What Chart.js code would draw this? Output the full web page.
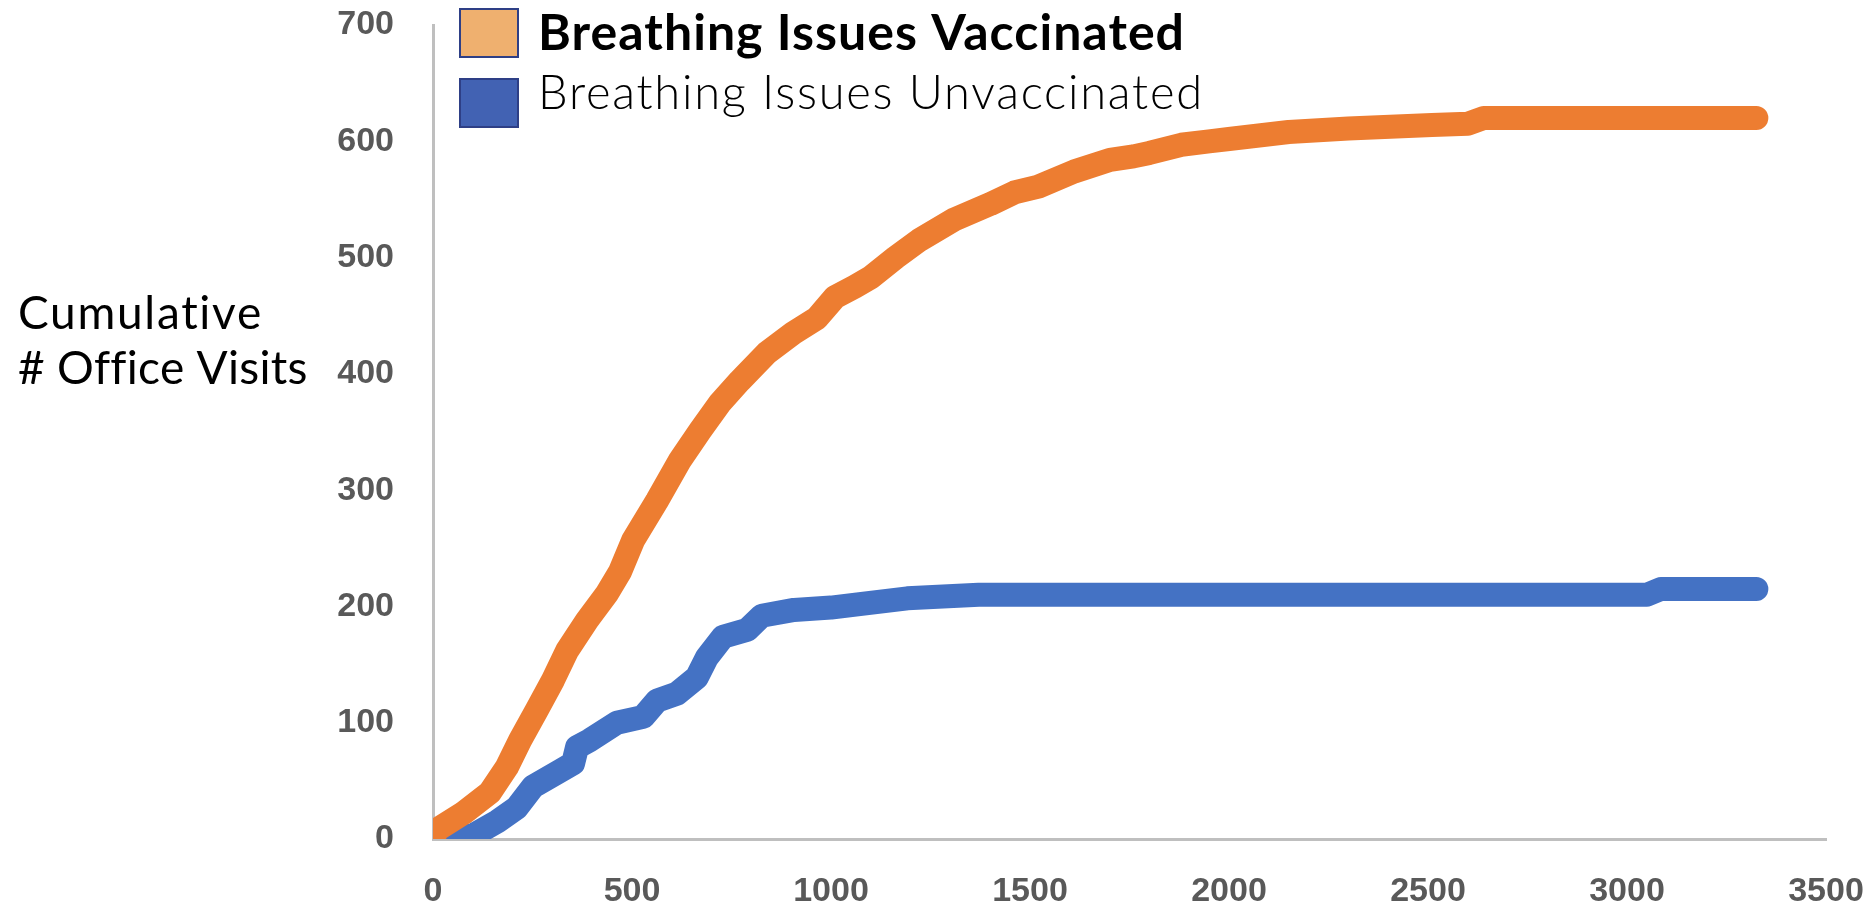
<!DOCTYPE html>
<html><head><meta charset="utf-8">
<script src="https://cdn.jsdelivr.net/npm/chart.js@4/dist/chart.umd.min.js"></script>
<style>html,body{margin:0;padding:0;background:#fff;overflow:hidden}#wrap{width:1875px;height:909px;position:relative}</style>
</head><body><div id="wrap"><canvas id="c" width="1875" height="909"></canvas></div>
<script>
const seriesNames = ['Breathing Issues Vaccinated', 'Breathing Issues Unvaccinated'];
const yAxisTitle = ['Cumulative', '# Office Visits'];
const xTicks = [0, 500, 1000, 1500, 2000, 2500, 3000, 3500];
const yTicks = [0, 100, 200, 300, 400, 500, 600, 700];

const vaccinatedX = [0, 10, 75, 143, 186, 219, 261, 302, 337, 387, 437, 470, 503, 563, 621, 671, 721, 771, 839, 905, 965, 1010, 1060, 1100, 1162, 1222, 1311, 1400, 1461, 1521, 1611, 1701, 1760, 1800, 1880, 1950, 2000, 2150, 2300, 2510, 2600, 2640, 3000, 3325];
const vaccinatedY = [0, 8, 22, 40, 62, 85, 111, 137, 162, 188, 211, 230, 257, 291, 326, 351, 375, 394, 418, 435, 448, 466, 475, 483, 500, 515, 533, 546, 556, 561, 574, 584, 587, 590, 597, 600, 602, 608, 611, 614, 615, 620, 620, 620];

const unvaccinatedX = [30, 100, 161, 211, 251, 312, 352, 362, 394, 462, 528, 563, 613, 663, 688, 729, 790, 826, 907, 1000, 1072, 1192, 1371, 3050, 3085, 3325];
const unvaccinatedY = [0, 3, 15, 27, 45, 57, 65, 79, 85, 100, 105, 119, 125, 139, 156, 174, 180, 192, 197, 199, 202, 207, 210, 210, 215, 215];

const lineColors = ['#ED7D31', '#4472C4'];
const swatchColors = ['#EFB06F', '#4262B3'];

function pts(xs, ys) { return xs.map((x, i) => ({x: x, y: ys[i]})); }

const overlay = {
  id: 'overlay',
  afterDraw(chart) {
    const ctx = chart.ctx;
    ctx.save();
    ctx.fillStyle = '#000';
    ctx.textBaseline = 'alphabetic';
    ctx.textAlign = 'left';
    const titleTargets = [244, 287];
    const titleBase = [329, 384];
    yAxisTitle.forEach((t, i) => {
      ctx.font = '400 46px Lato';
      ctx.letterSpacing = '0px';
      const w0 = ctx.measureText(t).width;
      const ls = (titleTargets[i] - w0) / Math.max(1, t.length - 1);
      ctx.letterSpacing = ls.toFixed(2) + 'px';
      ctx.fillText(t, 18, titleBase[i]);
    });
    const sqY = [9, 79];
    const fonts = ['bold 50px Lato', '300 47px Lato'];
    const targets = [646, 664];
    const bases = [50, 109];
    seriesNames.forEach((name, i) => {
      ctx.letterSpacing = '0px';
      ctx.fillStyle = swatchColors[i];
      ctx.fillRect(460, sqY[i], 58, 48);
      ctx.strokeStyle = '#2E3F86';
      ctx.lineWidth = 2;
      ctx.strokeRect(460, sqY[i], 58, 48);
      ctx.fillStyle = '#000';
      ctx.font = fonts[i];
      const w0 = ctx.measureText(name).width;
      const ls = (targets[i] - w0) / Math.max(1, name.length - 1);
      ctx.letterSpacing = ls.toFixed(2) + 'px';
      ctx.fillText(name, 538, bases[i]);
    });
    ctx.restore();
  }
};

new Chart(document.getElementById('c'), {
  type: 'scatter',
  data: {
    datasets: [
      {label: seriesNames[0], data: pts(vaccinatedX, vaccinatedY), showLine: true, borderColor: lineColors[0], backgroundColor: lineColors[0], borderWidth: 24, pointRadius: 0, borderCapStyle: 'round', borderJoinStyle: 'round', tension: 0},
      {label: seriesNames[1], data: pts(unvaccinatedX, unvaccinatedY), showLine: true, borderColor: lineColors[1], backgroundColor: lineColors[1], borderWidth: 24, pointRadius: 0, borderCapStyle: 'round', borderJoinStyle: 'round', tension: 0}
    ]
  },
  options: {
    responsive: false,
    devicePixelRatio: 1,
    animation: false,
    layout: {padding: {left: 0, top: 25, right: 49, bottom: 0}},
    plugins: {legend: {display: false}, tooltip: {enabled: false}},
    scales: {
      x: {
        type: 'linear', min: 0, max: 3500,
        afterBuildTicks: s => { s.ticks = xTicks.map(v => ({value: v})); },
        afterFit: s => { s.height = 70; s.paddingLeft = 0; s.paddingRight = 0; },
        grid: {display: false, drawTicks: false},
        border: {display: true, color: '#BFBFBF', width: 3},
        ticks: {padding: 32, color: '#595959', font: {family: 'Liberation Sans', weight: 'bold', size: 34}, callback: v => String(v), maxRotation: 0, autoSkip: false}
      },
      y: {
        type: 'linear', min: 0, max: 700,
        afterBuildTicks: s => { s.ticks = yTicks.map(v => ({value: v})); },
        afterFit: s => { s.width = 433; s.paddingTop = 0; s.paddingBottom = 0; },
        grid: {display: false, drawTicks: false},
        border: {display: true, color: '#BFBFBF', width: 3},
        ticks: {padding: 39, color: '#595959', font: {family: 'Liberation Sans', weight: 'bold', size: 34}, callback: v => String(v), autoSkip: false}
      }
    }
  },
  plugins: [overlay]
});
</script>
</body></html>
